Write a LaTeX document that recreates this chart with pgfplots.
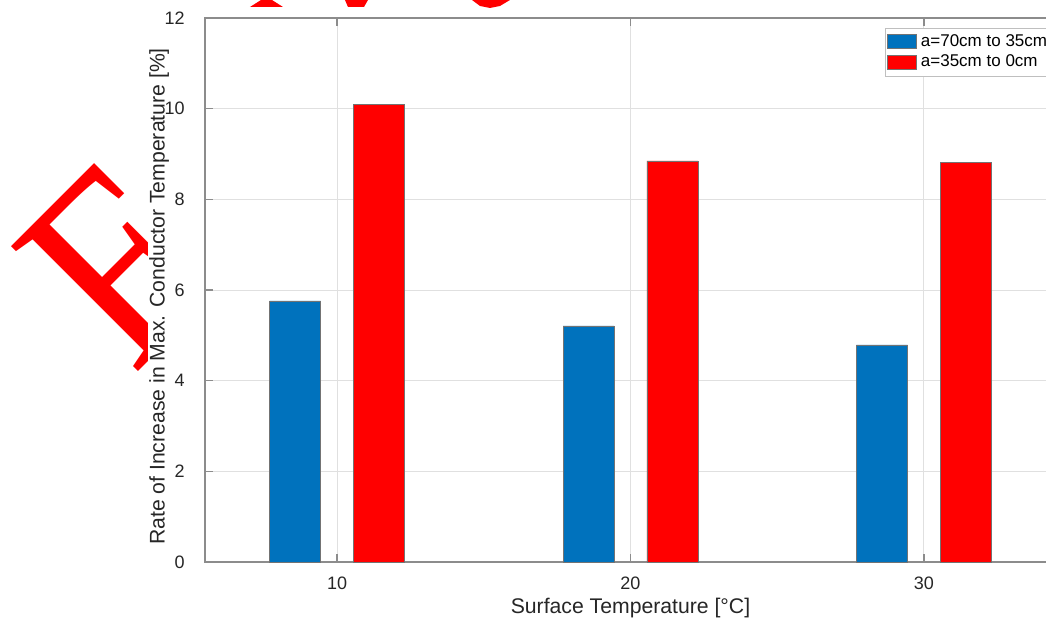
\documentclass[border=0pt]{standalone}
\usepackage{pgfplots}
\pgfplotsset{compat=1.18}
\usepackage{fontspec}
\setmainfont{Liberation Sans}
\newfontfamily\serifF{Liberation Serif}
\definecolor{mblue}{RGB}{0,114,189}
\definecolor{mred}{RGB}{255,0,0}
\definecolor{txt}{RGB}{38,38,38}
\begin{document}
\begin{tikzpicture}
\useasboundingbox (-102.5pt,-27.5pt) rectangle (420.5pt,281pt);
\clip (-102.5pt,-27.5pt) rectangle (420.5pt,281pt);
\begin{axis}[
  at={(0,0)}, anchor=south west,
  scale only axis, width=425.5pt, height=272pt,
  xmin=5.5, xmax=34.5, ymin=0, ymax=12,
  xtick={10,20,30}, ytick={0,2,...,12},
  tick align=inside, major tick length=4pt,
  grid=major, major grid style={draw=black!12, line width=0.5pt},
  axis line style={draw=black!45, line width=0.6pt},
  tick style={draw=black!45, line width=0.6pt},
  /pgf/number format/assume math mode=true,
  tick label style={font=\fontsize{9}{10}\selectfont, text=txt},
  xticklabel style={yshift=-4pt},
  yticklabel style={inner sep=0pt, xshift=-10pt},
  label style={font=\fontsize{10.6}{12}\selectfont, text=txt},
  xlabel={Surface Temperature [°C]},
  xlabel style={at={(axis description cs:0.5,-0.0938)}, anchor=base},
  ylabel={Rate of Increase in Max. Conductor Temperature [\%]},
  ylabel style={at={(axis description cs:-0.054,0.488)}, anchor=center, inner sep=0pt},
  legend style={at={(rel axis cs:0.799,0.982)}, anchor=north west,
    draw=black!25, fill=white, font=\fontsize{8.5}{10}\selectfont,
    inner sep=1pt, row sep=-1pt},
  legend cell align=left,
  legend image code/.code={\draw[#1, draw=black!55, line width=0.3pt] (0pt,-3.5pt) rectangle (14.5pt,3.5pt);},
]
\addplot[ybar, bar width=1.74, bar shift=-1.43, fill=mblue, draw=black!55, line width=0.3pt]
  coordinates {(10,5.76) (20,5.21) (30,4.79)};
\addplot[ybar, bar width=1.74, bar shift=1.43, fill=mred, draw=black!55, line width=0.3pt]
  coordinates {(10,10.10) (20,8.85) (30,8.82)};
\legend{a=70cm to 35cm, a=35cm to 0cm}
\end{axis}
\begin{scope}
\clip (-102.5pt,-27.5pt) rectangle (-28.5pt,281pt);
\node[rotate=45, text=red, inner sep=0pt] at (-44pt,147.5pt)
  {\scalebox{0.88}[1]{\serifF\fontsize{136}{136}\selectfont F}};
\end{scope}
\fill[red] (22.5pt,277.5pt) -- (39pt,277.5pt) -- (33.5pt,281pt) -- (28pt,281pt) -- cycle;
\fill[red] (70pt,281pt) -- (81.5pt,281pt) -- (79.5pt,277.5pt) -- (71.5pt,277.5pt) -- cycle;
\fill[red] (133.5pt,281pt) -- (152.5pt,281pt) -- (147.5pt,278pt) -- (142.5pt,277pt) -- (137.5pt,278pt) -- cycle;
\end{tikzpicture}
\end{document}
